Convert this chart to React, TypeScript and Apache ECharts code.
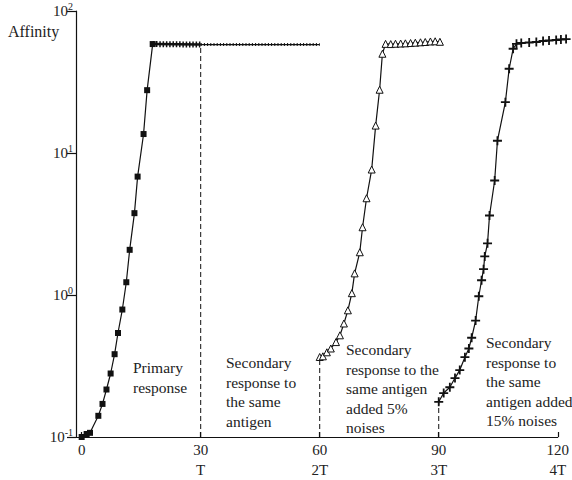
import React, { useEffect, useRef } from "react";
import * as echarts from "echarts";

const FONT = "Liberation Serif";
const INK = "#111";

// x tick positions and labels
const xTickValues = [0, 30, 60, 90, 120];
const xTickLabels = ["0", "30\nT", "60\n2T", "90\n3T", "120\n4T"];
// y decades
const yTickValues = [0.1, 1, 10, 100];
const yTickExponents = ["-1", "0", "1", "2"];

// Primary response (filled squares)
const primaryT = [0, 1.25, 2.1, 4.2, 5.25, 6.25, 7.3, 8.3, 9.15, 10.25, 11.25, 12.1, 13.3, 14.1, 15.6, 16.5, 17.9];
const primaryV = [0.1, 0.105, 0.107, 0.141, 0.171, 0.216, 0.28, 0.383, 0.54, 0.79, 1.23, 2.08, 3.77, 6.82, 13.6, 27.7, 58.5];
// Plateau after primary response (dense markers) and memory plateau
const plateauT = [17.9, 30];
const plateauV = [58.5, 58];
const memoryT = [30, 60];
const memoryV = [58, 58];

// Secondary response, 5% noise (hollow triangles)
const secT = [60, 60.8, 61.8, 62.8, 64.1, 65.1, 66.1, 67.1, 68.1, 68.8, 70.1, 70.8, 71.8, 73.1, 74.1, 75.1, 75.8, 76.6, 77.9, 79.1, 80.4, 81.6, 82.9, 84.1, 85.4, 86.6, 87.9, 89.1, 90.3];
const secV = [0.366, 0.37, 0.395, 0.42, 0.466, 0.52, 0.63, 0.78, 1.03, 1.42, 2.0, 3.0, 4.8, 7.65, 15.6, 27.9, 50, 58.7, 58.5, 58.8, 59, 59.2, 59.5, 59.8, 60.2, 60.5, 61, 61.2, 60.7];

// Secondary response, 15% noise (crosses)
const thrT = [90, 91.25, 92.8, 94.1, 95.3, 96.6, 97.6, 98.3, 99.3, 100.1, 100.8, 101.3, 101.6, 102.3, 102.8, 104.1, 104.8, 106.8, 107.75, 108.75, 109.6, 110.8, 112.8, 114.6, 116.3, 117.8, 119.6, 120.8, 122.1];
const thrV = [0.177, 0.204, 0.224, 0.26, 0.296, 0.365, 0.42, 0.5, 0.66, 0.98, 1.27, 1.52, 1.87, 2.31, 3.63, 6.4, 12.2, 22.8, 39.2, 54.2, 58.7, 59.5, 60, 60.5, 61.5, 62, 62.5, 63, 63.4];

// Dashed separators
const dash30T = [30, 30];
const dash30V = [0.1, 58];
const dash60T = [60, 60];
const dash60V = [0.1, 0.366];
const dash90T = [90, 90];
const dash90V = [0.1, 0.177];

const annotations = [
  { text: "Primary\nresponse", x: 133, y: 358 },
  { text: "Secondary\nresponse to\nthe same\nantigen", x: 226, y: 353 },
  { text: "Secondary\nresponse to the\nsame antigen\nadded 5%\nnoises", x: 346, y: 340 },
  { text: "Secondary\nresponse to\nthe same\nantigen added\n15% noises", x: 486, y: 333 },
];

const zip = (a: number[], b: number[]) => a.map((v, i) => [v, b[i]]);

const PLUS = "path://M4,0 H6 V4 H10 V6 H6 V10 H4 V6 H0 V4 H4 Z";

export default function App() {
  const ref = useRef<HTMLDivElement>(null);
  useEffect(() => {
    if (!ref.current) return;
    const chart = echarts.init(ref.current, null, { renderer: "svg" });
    const lineBase = {
      type: "line",
      clip: false,
      silent: true,
      lineStyle: { color: INK, width: 1.2 },
    };
    const dashSeries = (t: number[], v: number[]) => ({
      ...lineBase,
      data: zip(t, v),
      showSymbol: false,
      symbol: "none",
      lineStyle: { color: INK, width: 1, type: [5, 3] },
    });
    chart.setOption({
      animation: false,
      backgroundColor: "#fff",
      textStyle: { fontFamily: FONT },
      grid: { left: 76, right: 10.3, top: 11, bottom: 43, containLabel: false },
      xAxis: {
        type: "value",
        min: -1.43,
        max: 120,
        splitLine: { show: false },
        axisLine: { show: true, onZero: false, lineStyle: { color: INK, width: 1.2 } },
        axisTick: {
          show: true,
          inside: true,
          length: 5,
          customValues: xTickValues,
          lineStyle: { color: INK, width: 1.2 },
        },
        axisLabel: {
          customValues: xTickValues,
          formatter: (v: number) => xTickLabels[xTickValues.indexOf(Math.round(v))] ?? "",
          fontFamily: FONT,
          fontSize: 15,
          lineHeight: 20,
          color: "#222",
          margin: 3,
        },
      },
      yAxis: {
        type: "log",
        logBase: 10,
        min: 0.1,
        max: 100,
        splitLine: { show: false },
        minorTick: { show: false },
        axisLine: { show: true, onZero: false, lineStyle: { color: INK, width: 1.2 } },
        axisTick: { show: true, length: 9, lineStyle: { color: INK, width: 1.2 } },
        axisLabel: {
          margin: 3,
          formatter: (v: number) => {
            let idx = -1;
            yTickValues.forEach((tv, i) => {
              if (Math.abs(Math.log10(tv) - Math.log10(v)) < 0.01) idx = i;
            });
            if (idx < 0) return "";
            return `{b|10}{s|${yTickExponents[idx]}}`;
          },
          rich: {
            b: { fontFamily: FONT, fontSize: 15, color: "#222" },
            s: { fontFamily: FONT, fontSize: 10, color: "#222", padding: [0, 0, 10, 0] },
          },
        },
      },
      graphic: [
        {
          type: "text",
          left: 8,
          top: 23,
          style: { text: "Affinity", fontFamily: FONT, fontSize: 16, fill: "#222" },
        },
        ...annotations.map((a) => ({
          type: "text",
          x: a.x,
          y: a.y,
          style: {
            text: a.text,
            fontFamily: FONT,
            fontSize: 15.5,
            lineHeight: 19.5,
            fill: "#222",
            verticalAlign: "top",
          },
        })),
      ],
      series: [
        dashSeries(dash30T, dash30V),
        dashSeries(dash60T, dash60V),
        dashSeries(dash90T, dash90V),
        // memory plateau: thin line plus fine tick texture
        { ...lineBase, data: zip(memoryT, memoryV), symbol: "none", lineStyle: { color: INK, width: 1.2 } },
        { ...lineBase, data: zip(memoryT, memoryV), symbol: "none", lineStyle: { color: INK, width: 3, type: [1, 2.2] } },
        // primary plateau: heavy band
        { ...lineBase, data: zip(plateauT, plateauV), symbol: "none", lineStyle: { color: INK, width: 2.5 } },
        { ...lineBase, data: zip(plateauT, plateauV), symbol: "none", lineStyle: { color: INK, width: 6, type: [1.5, 1.8] } },
        {
          ...lineBase,
          name: "Primary",
          data: zip(primaryT, primaryV),
          symbol: "rect",
          symbolSize: 6,
          showAllSymbol: true,
          itemStyle: { color: INK },
        },
        {
          ...lineBase,
          name: "5%",
          data: zip(secT, secV),
          symbol: "triangle",
          symbolSize: 7,
          showAllSymbol: true,
          itemStyle: { color: "#fff", borderColor: INK, borderWidth: 1 },
        },
        {
          ...lineBase,
          name: "15%",
          data: zip(thrT, thrV),
          symbol: PLUS,
          symbolSize: 9,
          showAllSymbol: true,
          itemStyle: { color: INK },
        },
      ],
    });
    return () => chart.dispose();
  }, []);
  return (
    <div
      ref={ref}
      style={{ position: "fixed", left: 0, top: 0, width: 572, height: 480, background: "#fff" }}
    />
  );
}
